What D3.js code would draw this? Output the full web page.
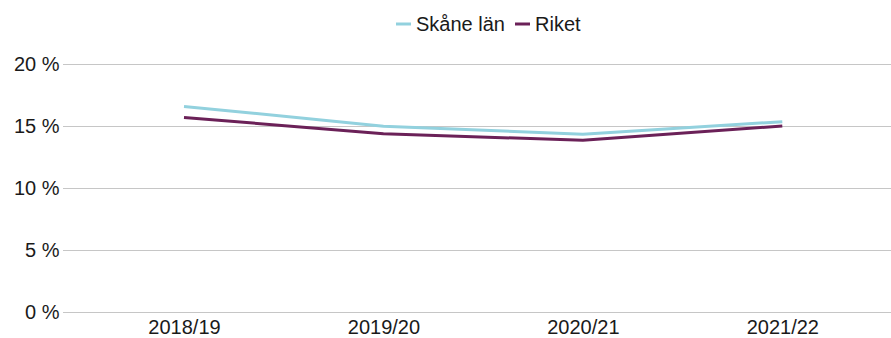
<!DOCTYPE html>
<html><head><meta charset="utf-8">
<script src="https://cdn.jsdelivr.net/npm/d3@7"></script>
<style>body{margin:0;background:#fff}svg{display:block;font-family:"Liberation Sans",Arial,sans-serif}</style>
</head><body><svg id="c" width="891" height="338"></svg>
<script>
const categories = ["2018/19","2019/20","2020/21","2021/22"];
const skane = [16.6, 15.0, 14.35, 15.37];
const riket = [15.7, 14.4, 13.86, 15.02];
const yTicks = [0,5,10,15,20];
const seriesNames = ["Skåne län","Riket"];
const colors = ["#92d1de","#6b2158"];

const svg = d3.select("#c");
const x = d3.scalePoint().domain(categories).range([184,782.3]);
const y = d3.scaleLinear().domain([0,20]).range([312,64.3]);

const grid = svg.append("g");
grid.selectAll("line").data(yTicks).join("line")
  .attr("x1",63).attr("x2",891)
  .attr("y1",d=>Math.round(y(d))+0.5).attr("y2",d=>Math.round(y(d))+0.5)
  .attr("stroke","#c6c6c6").attr("stroke-width",1);

const yAxis = d3.axisLeft(y).tickValues(yTicks).tickSize(0).tickPadding(0).tickFormat(d=>d+" %");
svg.append("g").attr("transform","translate(59.5,0)").call(yAxis)
  .call(g=>g.select(".domain").remove())
  .selectAll("text").attr("font-size","20px").attr("fill","#1a1a1a").attr("font-family","Liberation Sans, Arial, sans-serif");

const xAxis = d3.axisBottom(x).tickSize(0).tickPadding(0);
svg.append("g").attr("transform","translate(0,320)").call(xAxis)
  .call(g=>g.select(".domain").remove())
  .selectAll("text").attr("font-size","20px").attr("fill","#1a1a1a").attr("font-family","Liberation Sans, Arial, sans-serif").attr("dy","0.71em");

const line = d3.line().x((d,i)=>x(categories[i])).y(d=>y(d));
[skane, riket].forEach((s,k)=>{
  svg.append("path").datum(s).attr("d",line).attr("fill","none")
    .attr("stroke",colors[k]).attr("stroke-width",3).attr("stroke-linejoin","round");
});

const legendX = [396, 515];
seriesNames.forEach((n,k)=>{
  const g = svg.append("g").attr("transform",`translate(${legendX[k]},24)`);
  g.append("line").attr("x1",0).attr("x2",15).attr("y1",0).attr("y2",0).attr("stroke",colors[k]).attr("stroke-width",3);
  g.append("text").attr("x",20).attr("y",0).attr("dy","0.35em").attr("font-size","20px").attr("fill","#1a1a1a").text(n);
});
</script></body></html>
